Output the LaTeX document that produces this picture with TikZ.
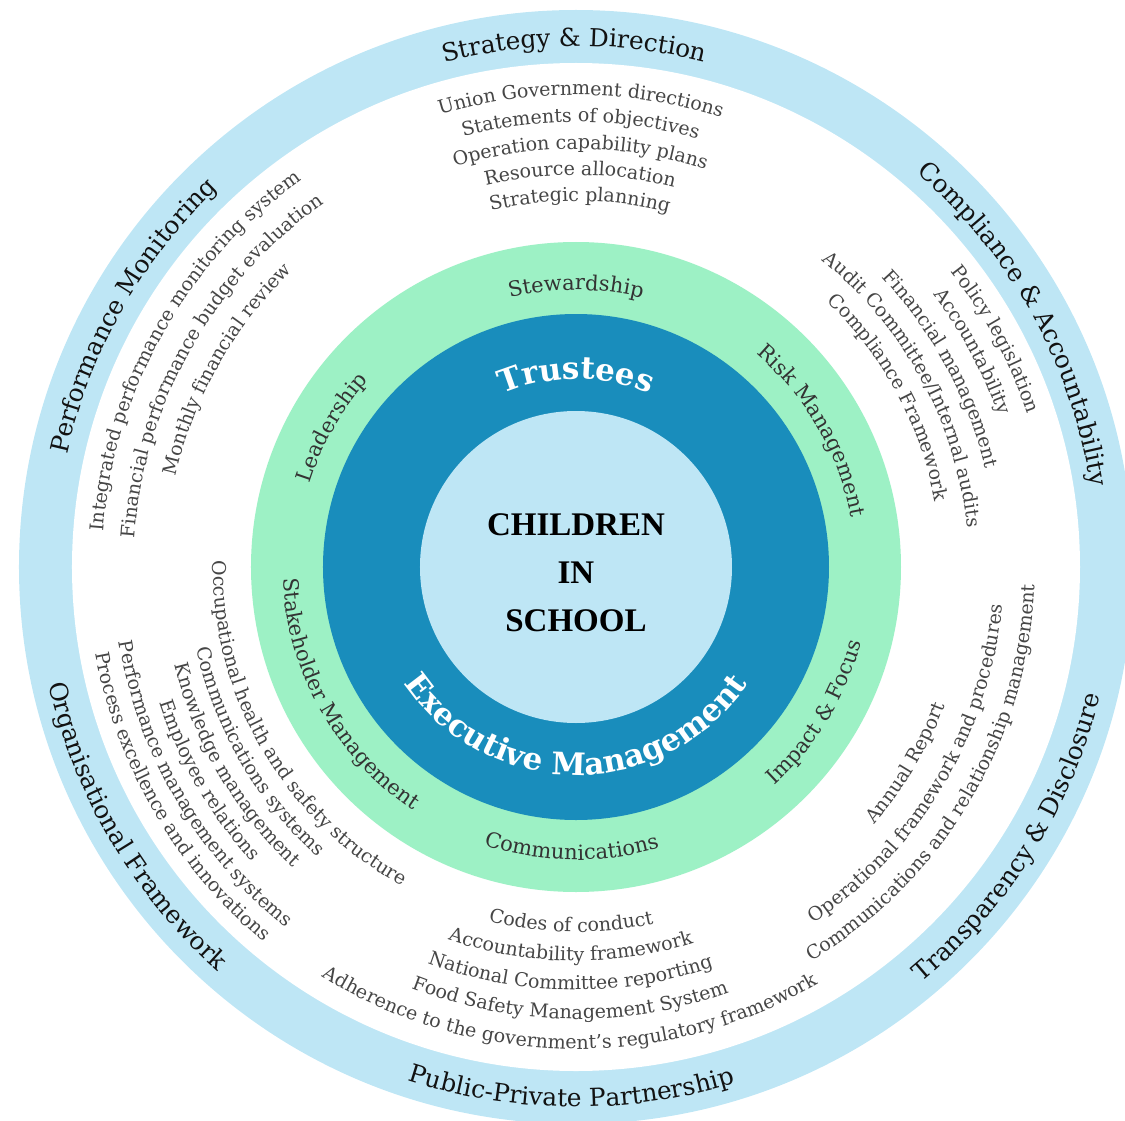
\documentclass[tikz,border=0pt]{standalone}
\usepackage{fontspec}
\setmainfont{DejaVu Serif}
\newfontfamily\hubfont{Liberation Serif}
\usetikzlibrary{decorations.text}

\definecolor{ringblue}{RGB}{190,230,245}
\definecolor{ringgreen}{RGB}{157,241,197}
\definecolor{coreblue}{RGB}{25,141,188}
\definecolor{itemgray}{RGB}{70,70,70}
\definecolor{headink}{RGB}{18,18,18}

% text set on an arc round the origin: #1 format, #2 radius, #3 centre angle, #4 text
% \toparc runs clockwise (letters point out), \botarc anticlockwise (letters point in)
\newcommand{\toparc}[4]{%
  \path[decorate,decoration={text along path,text align=center,text={|#1|#4}}]
    ({#3+90}:#2) arc[start angle={#3+90},end angle={#3-90},radius=#2];}
\newcommand{\botarc}[4]{%
  \path[decorate,decoration={text along path,text align=center,text={|#1|#4}}]
    ({#3-90}:#2) arc[start angle={#3-90},end angle={#3+90},radius=#2];}

\newcommand{\headfmt}{\fontsize{12.4}{14}\selectfont\color{headink}}
\newcommand{\itemfmt}{\fontsize{9.5}{11}\selectfont\color{itemgray}}
\newcommand{\pillarfmt}{\fontsize{10.5}{12}\selectfont\color{black!80}}
\newcommand{\bodyfmt}{\fontsize{15.5}{17}\selectfont\bfseries\color{white}}

\begin{document}
\begin{tikzpicture}[x=0.5pt,y=0.5pt]
  \useasboundingbox (-576,-553) rectangle (549,567);
  \clip (-576,-553) rectangle (549,567);

  % rings, from the outside in
  \fill[ringblue] (0,0) circle[radius=557];
  \fill[white] (0,0) circle[radius=504];
  \fill[ringgreen] (0,0) circle[radius=325];
  \fill[coreblue] (0,0) circle[radius=253];
  \fill[ringblue] (0,0) circle[radius=156];

  \node[align=center,font=\hubfont\bfseries\fontsize{16.5}{24}\selectfont] (hub) at (0,-6) {CHILDREN\\IN\\SCHOOL};

  % governing bodies
  \toparc{\bodyfmt}{188}{90}{Trustees}
  \botarc{\bodyfmt}{208}{-90}{Executive Management}

  % green ring
  \toparc{\pillarfmt}{277}{90}{Stewardship}
  \toparc{\pillarfmt}{279}{30}{Risk Management}
  \toparc{\pillarfmt}{279}{150.3}{Leadership}
  \botarc{\pillarfmt}{293}{-90.9}{Communications}
  \botarc{\pillarfmt}{295}{-31.3}{Impact {\&} Focus}
  \botarc{\pillarfmt}{293}{209.2}{Stakeholder Management}

  % outer ring headings
  \toparc{\headfmt}{521}{90.2}{Strategy {\&} Direction}
  \toparc{\headfmt}{521}{29}{Compliance {\&} Accountability}
  \toparc{\headfmt}{521}{150.5}{Performance Monitoring}
  \botarc{\headfmt}{540}{-90.5}{Public-Private Partnership}
  \botarc{\headfmt}{540}{-32}{Transparency {\&} Disclosure}
  \botarc{\headfmt}{540}{210.5}{Organisational Framework}

  % strategy
  \toparc{\itemfmt}{472}{89.4}{Union Government directions}
  \toparc{\itemfmt}{445}{89.4}{Statements of objectives}
  \toparc{\itemfmt}{418}{89.4}{Operation capability plans}
  \toparc{\itemfmt}{392}{89.4}{Resource allocation}
  \toparc{\itemfmt}{366}{89.4}{Strategic planning}

  % compliance
  \toparc{\itemfmt}{477}{28.5}{Policy legislation}
  \toparc{\itemfmt}{449}{28.5}{Accountability}
  \toparc{\itemfmt}{421}{28.5}{Financial management}
  \toparc{\itemfmt}{393}{28.5}{Audit Committee/Internal audits}
  \toparc{\itemfmt}{365}{28.5}{Compliance Framework}

  % performance monitoring
  \toparc{\itemfmt}{474}{150.5}{Integrated performance monitoring system}
  \toparc{\itemfmt}{442}{150.5}{Financial performance budget evaluation}
  \toparc{\itemfmt}{410}{150.5}{Monthly financial review}

  % organisational framework
  \botarc{\itemfmt}{363}{210.2}{Occupational health and safety structure}
  \botarc{\itemfmt}{388}{210.2}{Communications systems}
  \botarc{\itemfmt}{413}{210.2}{Knowledge management}
  \botarc{\itemfmt}{438}{210.2}{Employee relations}
  \botarc{\itemfmt}{463}{210.2}{Performance management systems}
  \botarc{\itemfmt}{488}{210.2}{Process excellence and innovations}

  % transparency
  \botarc{\itemfmt}{394}{-30.7}{Annual Report}
  \botarc{\itemfmt}{428}{-30.7}{Operational framework and procedures}
  \botarc{\itemfmt}{459}{-30.7}{Communications and relationship management}

  % public-private partnership
  \botarc{\itemfmt}{365}{-90.8}{Codes of conduct}
  \botarc{\itemfmt}{394}{-90.8}{Accountability framework}
  \botarc{\itemfmt}{423}{-90.8}{National Committee reporting}
  \botarc{\itemfmt}{452}{-90.8}{Food Safety Management System}
  \botarc{\itemfmt}{482}{-90.8}{Adherence to the government’s regulatory framework}
\end{tikzpicture}
\end{document}
